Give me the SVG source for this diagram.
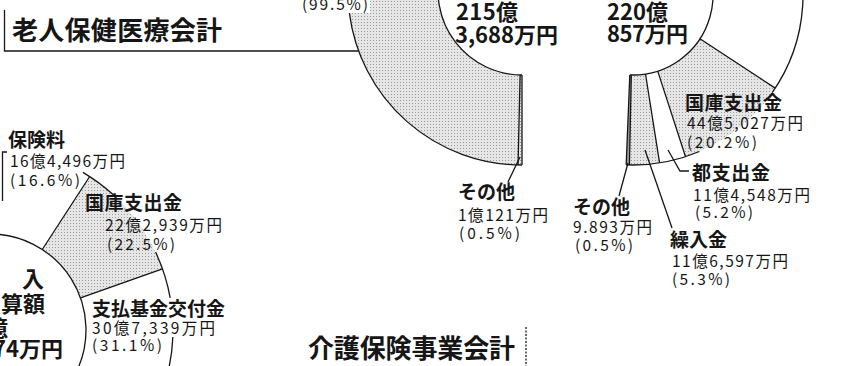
<svg xmlns="http://www.w3.org/2000/svg" width="868" height="366" viewBox="0 0 868 366">
<defs>
<pattern id="dots" width="3" height="3" patternUnits="userSpaceOnUse"><rect width="3" height="3" fill="#e6e6e6"/><rect x="1" y="1" width="1" height="1" fill="#9a9a9a"/></pattern>
<style>
.ln{stroke:#161616;stroke-width:1.3;fill:none}
.g{fill:url(#dots);stroke:none}
.t{font-family:"Noto Sans CJK JP","Noto Sans CJK SC",sans-serif;fill:#161616}
.lbl{font-size:19px;font-weight:700}
.amt{font-size:15.5px;font-weight:400}
.big{font-size:22px;font-weight:700}
.ttl{font-size:26px;font-weight:700}
</style>
</defs>
<rect width="868" height="366" fill="#fff"/>

<g id="title-rojin">
<polyline class="ln" points="4.5,10 4.5,51 358.5,51" stroke-width="1.5"/>
<text class="t ttl" x="12" y="40" textLength="210">老人保健医療会計</text>
</g>

<g id="chart-rojin">
<path class="g" d="M518.05,164.95 A174,174 0 0 1 353.9,-54 L440.9,-30.7 A84,84 0 0 0 520.1,74.98 Z"/>
<path class="g" d="M522,75 L522,165 A174,174 0 0 1 518.05,164.95 L520.1,74.98 A84,84 0 0 0 522,75 Z"/>
<rect x="300" y="0" width="70" height="13" fill="#fff"/>
<path class="ln" d="M522,165 A174,174 0 0 1 349.4,13.1"/>
<path class="ln" d="M522,75 A84,84 0 0 1 440.9,-30.7"/>
<path class="ln" d="M522,75 L522,165 M520.1,75 L518.05,165" stroke-width="1"/>
<text class="t amt" x="302" y="10" textLength="66">(99.5%)</text>
<text class="t big" x="456" y="20" textLength="62">215億</text>
<text class="t big" x="455" y="43" textLength="103">3,688万円</text>
<text class="t lbl" x="458" y="199" textLength="57">その他</text>
<text class="t amt" x="458" y="221" textLength="90">1億121万円</text>
<text class="t amt" x="459" y="239" textLength="61">(0.5%)</text>
</g>

<g id="chart-right">
<path class="g" d="M699.94,38.8 L775.25,88.09 A170,170 0 0 1 685.53,156.68 L657.72,71.08 A80,80 0 0 0 699.94,38.8 Z"/>
<path class="g" d="M645.51,74.02 L659.59,162.91 A170,170 0 0 1 629.44,164.96 L631.32,74.98 A80,80 0 0 0 645.51,74.02 Z"/>
<path d="M631.32,74.98 L629.44,164.96 A170,170 0 0 1 626.18,164.86 L629.79,74.94 A80,80 0 0 0 631.32,74.98 Z" fill="#9a9a9a"/>
<path class="ln" d="M772.26,92.51 A170,170 0 0 0 633,-175"/>
<path class="ln" d="M626.18,164.86 A170,170 0 0 0 699.42,151.49"/>
<path class="ln" d="M629.79,74.94 A80,80 0 0 0 673,-74.28"/>
<path class="ln" d="M699.94,38.8 L775.25,88.09 M657.72,71.08 L685.53,156.68 M645.51,74.02 L659.59,162.91 M631.32,74.98 L629.44,164.96 M629.79,74.94 L626.18,164.86"/>
<text class="t big" x="607" y="20" textLength="61">220億</text>
<text class="t big" x="607" y="42" textLength="81">857万円</text>
<text class="t lbl" x="685" y="110" textLength="97">国庫支出金</text>
<text class="t amt" x="687" y="129" textLength="116">44億5,027万円</text>
<text class="t amt" x="687" y="148" textLength="70">(20.2%)</text>
<text class="t lbl" x="692" y="180" textLength="78">都支出金</text>
<text class="t amt" x="693" y="201" textLength="117">11億4,548万円</text>
<text class="t amt" x="695" y="218" textLength="58">(5.2%)</text>
<text class="t lbl" x="573" y="214" textLength="57">その他</text>
<text class="t amt" x="573" y="233" textLength="79">9.893万円</text>
<text class="t amt" x="575" y="251" textLength="58">(0.5%)</text>
<text class="t lbl" x="670" y="247" textLength="57">繰入金</text>
<text class="t amt" x="672" y="267" textLength="116">11億6,597万円</text>
<text class="t amt" x="672" y="285" textLength="58">(5.3%)</text>
</g>

<g id="chart-kaigo">
<path class="g" d="M42.29,249.49 L89.67,176.52 A183,183 0 0 1 162.5,268.91 L80.49,297.95 A96,96 0 0 0 42.29,249.49 Z"/>
<path class="ln" d="M82.88,172.32 A183,183 0 0 1 113.63,195.08 M155.58,252.08 A183,183 0 0 1 170.16,297.91 M172.86,337.03 A183,183 0 0 1 168.9,368.05"/>
<path class="ln" d="M-10,234 A96,96 0 0 1 77,370.57"/>
<path class="ln" d="M42.29,249.49 L89.67,176.52 M80.49,297.95 L162.5,268.91"/>
<polyline class="ln" points="7,152 2.5,152 2.5,201" stroke-width="1"/>
<text class="t lbl" x="8" y="147" textLength="57">保険料</text>
<text class="t amt" x="10" y="167" textLength="115">16億4,496万円</text>
<text class="t amt" x="10" y="186" textLength="70">(16.6%)</text>
<text class="t lbl" x="85" y="210" textLength="97">国庫支出金</text>
<text class="t amt" x="105" y="231" textLength="117">22億2,939万円</text>
<text class="t amt" x="107" y="250" textLength="68">(22.5%)</text>
<text class="t lbl" x="92" y="316" textLength="133">支払基金交付金</text>
<text class="t amt" x="92" y="334" textLength="123">30億7,339万円</text>
<text class="t amt" x="92" y="351" textLength="70">(31.1%)</text>
<text class="t big" x="44" y="287" text-anchor="end">入</text>
<text class="t big" x="45" y="312" text-anchor="end">算額</text>
<text class="t big" x="8" y="336" text-anchor="end">億</text>
<text class="t big" x="63" y="357" text-anchor="end">74万円</text>
</g>

<g id="title-kaigo">
<text class="t ttl" x="308" y="358" textLength="207">介護保険事業会計</text>
<line class="ln" x1="526" y1="327" x2="526" y2="366" stroke-width="1" stroke-dasharray="2 1.5"/>
</g>

<g id="connectors">
<path class="ln" d="M520,157 L508,182"/>
<path class="ln" d="M628,163 L619,196"/>
<path class="ln" d="M645,150 L672,228"/>
<polyline class="ln" points="668,150 680,171 689,171"/>
</g>
</svg>
